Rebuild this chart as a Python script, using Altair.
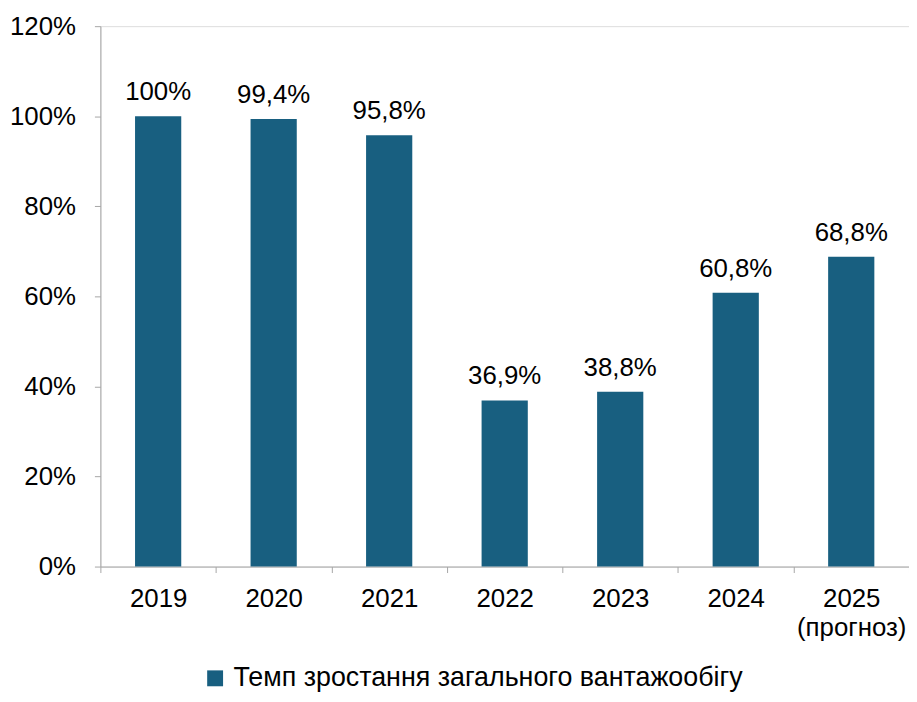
import altair as alt
import pandas as pd

categories = ["2019", "2020", "2021", "2022", "2023", "2024", "2025\n(прогноз)"]
values = [1.000, 0.994, 0.958, 0.369, 0.388, 0.608, 0.688]
series_name = "Темп зростання загального вантажообігу"


def fmt(v):
    p = v * 100
    if abs(p - round(p)) < 1e-9:
        return f"{int(round(p))}%"
    return f"{p:.1f}".replace(".", ",") + "%"


df = pd.DataFrame({
    "cat": categories,
    "val": values,
    "label": [fmt(v) for v in values],
    "series": [series_name] * len(values),
})

FONT = "Liberation Sans"
BAR = "#185f80"
AX = "#a6a6a6"
FS = 26

x = alt.X(
    "cat:N",
    sort=categories,
    scale=alt.Scale(paddingInner=0, paddingOuter=0),
    axis=alt.Axis(
        title=None,
        labelAngle=0,
        labelFontSize=FS,
        labelFont=FONT,
        labelColor="black",
        labelPadding=13,
        labelExpr="split(datum.label, '\\n')",
        labelLineHeight=29,
        tickBand="extent",
        tickSize=6,
        tickColor=AX,
        domainColor=AX,
        grid=False,
    ),
)

bars = alt.Chart(df).mark_bar(width={"band": 0.4}).encode(
    x=x,
    y=alt.Y(
        "val:Q",
        scale=alt.Scale(domain=[0, 1.2], nice=False),
        axis=alt.Axis(
            title=None,
            values=[0, 0.2, 0.4, 0.6, 0.8, 1.0, 1.2],
            format=".0%",
            labelFontSize=FS,
            labelFont=FONT,
            labelColor="black",
            labelPadding=19,
            tickSize=6,
            tickColor=AX,
            domainColor=AX,
            grid=False,
        ),
    ),
    color=alt.Color(
        "series:N",
        scale=alt.Scale(range=[BAR]),
        legend=alt.Legend(
            title=None,
            orient="none",
            legendX=102,
            legendY=643,
            symbolType="square",
            symbolSize=256,
            symbolStrokeWidth=0,
            labelFontSize=27,
            labelFont=FONT,
            labelColor="black",
            labelOffset=5,
            labelLimit=0,
        ),
    ),
)

text = alt.Chart(df).mark_text(
    font=FONT, fontSize=FS, color="black", baseline="alphabetic", dy=-16
).encode(
    x=alt.X("cat:N", sort=categories),
    y="val:Q",
    text="label:N",
)

chart = (
    alt.layer(bars, text)
    .properties(
        width=814,
        height=544,
        padding={"left": 93, "top": 16, "right": 0, "bottom": 126},
        autosize=alt.AutoSizeParams(type="none"),
    )
    .configure_view(stroke=None)
    .configure(background="white")
)

chart.save("out.html", embed_options={"renderer": "svg", "actions": False})
